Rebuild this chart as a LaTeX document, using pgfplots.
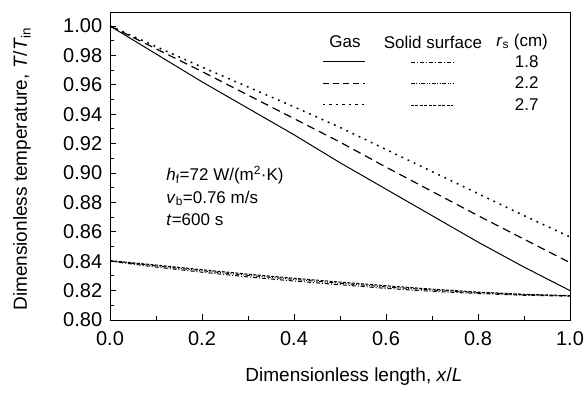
\documentclass[border=0pt]{standalone}
\usepackage{pgfplots}
\pgfplotsset{compat=1.18}
\usepackage{fontspec}
\setmainfont{Liberation Sans}
\begin{document}
\fontsize{17}{21}\selectfont
\begin{tikzpicture}
\useasboundingbox (-110pt,-76pt) rectangle (477pt,320pt);
\begin{axis}[
  at={(0,0)}, anchor=south west,
  scale only axis, width=460pt, height=308pt,
  xmin=0, xmax=1, ymin=0.80, ymax=1.0095,
  xtick={0,0.2,...,1.0}, minor xtick={0.1,0.3,0.5,0.7,0.9},
  ytick={0.80,0.82,...,1.001}, minor ytick={0.81,0.83,...,1.0},
  xtick pos=bottom, ytick pos=left,
  tick align=inside,
  major tick length=6pt, minor tick length=4pt,
  every tick/.style={line width=0.8pt, black},
  axis line style={line width=0.9pt},
  /pgf/number format/assume math mode=true,
  xticklabel style={/pgf/number format/fixed, /pgf/number format/fixed zerofill, /pgf/number format/precision=1, yshift=-6pt},
  yticklabel style={/pgf/number format/fixed, /pgf/number format/fixed zerofill, /pgf/number format/precision=2, xshift=-2pt},
  tick label style={font=\fontsize{20}{24}\selectfont},
  xlabel={Dimensionless length, \textit{x}/\textit{L}},
  ylabel={Dimensionless temperature, \textit{T}/\textit{T}\textsubscript{in}},
  xlabel style={font=\fontsize{19}{23}\selectfont, at={(axis description cs:0.5,0)}, anchor=center, yshift=-57pt, xshift=14pt},
  ylabel style={font=\fontsize{19}{23}\selectfont, at={(axis description cs:0,0.5)}, anchor=center, yshift=88pt, xshift=-3pt},
  clip=true,
]
% Gas, r_s = 1.8
\addplot[black, line width=1pt] coordinates {
(0,1.000) (0.1,0.981) (0.2,0.962) (0.3,0.944) (0.4,0.926) (0.5,0.907) (0.6,0.889) (0.7,0.871) (0.8,0.853) (0.9,0.836) (1.0,0.820)};
% Gas, r_s = 2.2
\addplot[black, line width=1.2pt, dash pattern=on 8pt off 5pt] coordinates {
(0,1.000) (0.1,0.9845) (0.2,0.969) (0.3,0.953) (0.4,0.937) (0.5,0.921) (0.6,0.904) (0.7,0.8875) (0.8,0.871) (0.9,0.855) (1.0,0.839)};
% Gas, r_s = 2.7
\addplot[black, line width=1.5pt, dash pattern=on 1.8pt off 5pt] coordinates {
(0,1.000) (0.1,0.986) (0.2,0.972) (0.3,0.9585) (0.4,0.945) (0.5,0.931) (0.6,0.916) (0.7,0.901) (0.8,0.886) (0.9,0.871) (1.0,0.8565)};
% Solid surface, r_s = 1.8
\addplot[black, line width=1pt, dash pattern=on 4pt off 2pt on 1pt off 2pt] coordinates {
(0,0.8400) (0.1,0.8360) (0.2,0.8325) (0.3,0.8293) (0.4,0.8265) (0.5,0.8240) (0.6,0.8215) (0.7,0.8195) (0.8,0.8180) (0.9,0.8168) (1.0,0.8162)};
% Solid surface, r_s = 2.2
\addplot[black, line width=1pt, dash pattern=on 4pt off 1.5pt on 1pt off 1.5pt on 1pt off 1.5pt] coordinates {
(0,0.8402) (0.1,0.8368) (0.2,0.8335) (0.3,0.8304) (0.4,0.8276) (0.5,0.8250) (0.6,0.8225) (0.7,0.8204) (0.8,0.8186) (0.9,0.8172) (1.0,0.8164)};
% Solid surface, r_s = 2.7
\addplot[black, line width=1pt, dash pattern=on 3pt off 1.5pt] coordinates {
(0,0.8404) (0.1,0.8374) (0.2,0.8342) (0.3,0.8312) (0.4,0.8284) (0.5,0.8258) (0.6,0.8233) (0.7,0.8210) (0.8,0.8190) (0.9,0.8175) (1.0,0.8166)};

% legend
\node[font=\fontsize{17}{21}\selectfont] at (axis cs:0.511,0.9891) {Gas};
\node[font=\fontsize{17}{21}\selectfont] at (axis cs:0.702,0.9891) {Solid surface};
\node[font=\fontsize{17}{21}\selectfont] at (axis cs:0.896,0.9891) {\textit{r}\textsubscript{s} (cm)};
\draw[black, line width=1pt] (axis cs:0.463,0.9755) -- (axis cs:0.554,0.9755);
\draw[black, line width=0.8pt, dash pattern=on 4pt off 2pt on 1pt off 2pt] (axis cs:0.654,0.9755) -- (axis cs:0.746,0.9755);
\node[font=\fontsize{17}{21}\selectfont] at (axis cs:0.906,0.9755) {1.8};
\draw[black, line width=1pt, dash pattern=on 6pt off 4pt] (axis cs:0.463,0.9612) -- (axis cs:0.554,0.9612);
\draw[black, line width=0.8pt, dash pattern=on 4pt off 1.5pt on 1pt off 1.5pt on 1pt off 1.5pt] (axis cs:0.654,0.9612) -- (axis cs:0.746,0.9612);
\node[font=\fontsize{17}{21}\selectfont] at (axis cs:0.906,0.9612) {2.2};
\draw[black, line width=1pt, dash pattern=on 2.5pt off 4pt] (axis cs:0.463,0.9463) -- (axis cs:0.554,0.9463);
\draw[black, line width=0.8pt, dash pattern=on 3pt off 1.5pt] (axis cs:0.654,0.9463) -- (axis cs:0.746,0.9463);
\node[font=\fontsize{17}{21}\selectfont] at (axis cs:0.906,0.9463) {2.7};

% annotation
\node[anchor=west, align=left, font=\fontsize{17}{22.5}\selectfont] at (axis cs:0.11,0.8844) {\textit{h}\textsubscript{f}=72 W/(m\textsuperscript{2}·K)\\\textit{v}\textsubscript{b}=0.76 m/s\\\textit{t}=600 s};
\end{axis}
\end{tikzpicture}
\end{document}
